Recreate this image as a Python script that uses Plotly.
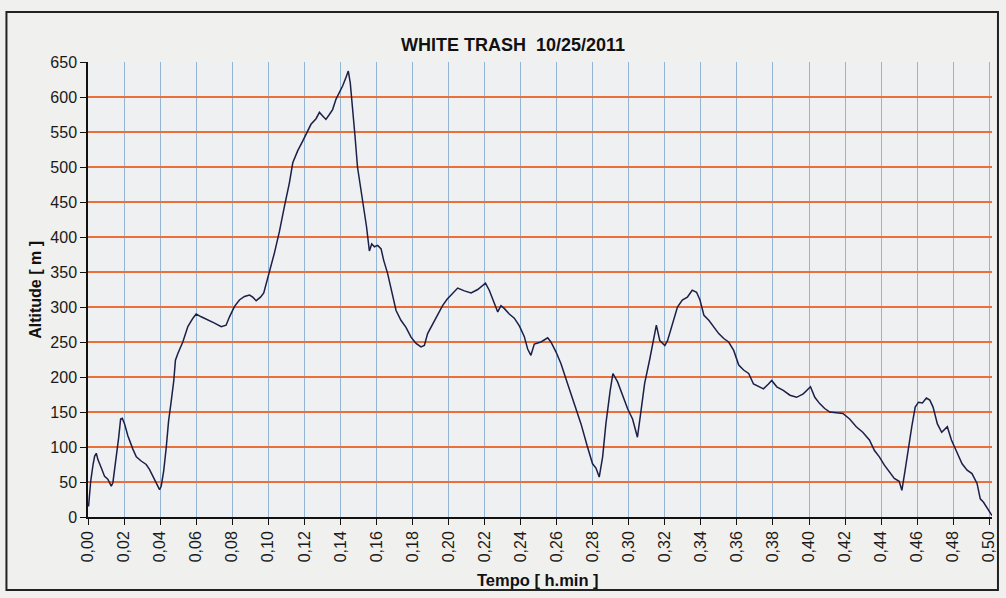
import plotly.graph_objects as go

title_text = "WHITE TRASH  10/25/2011"
x_title = "Tempo [ h.min ]"
y_title = "Altitude [ m ]"

# Time (h.min)
tempo = [
    0.0003, 0.0015, 0.0028, 0.0037, 0.0046, 0.0055, 0.0074, 0.0092, 0.0110, 0.0129,
    0.0138, 0.0157, 0.0170, 0.0181, 0.0190, 0.0203, 0.0221, 0.0249, 0.0268, 0.0295,
    0.0323, 0.0341, 0.0360, 0.0378, 0.0397, 0.0406, 0.0420, 0.0434, 0.0447, 0.0461,
    0.0476, 0.0485, 0.0499, 0.0526, 0.0554, 0.0582, 0.0600, 0.0628, 0.0665, 0.0702,
    0.0739, 0.0766, 0.0785, 0.0813, 0.0840, 0.0868, 0.0896, 0.0914, 0.0933, 0.0957,
    0.0975, 0.0988, 0.1007, 0.1034, 0.1062, 0.1090, 0.1117, 0.1136, 0.1163, 0.1191,
    0.1210, 0.1237, 0.1265, 0.1284, 0.1302, 0.1320, 0.1339, 0.1357, 0.1376, 0.1394,
    0.1413, 0.1431, 0.1444, 0.1455, 0.1468, 0.1481, 0.1495, 0.1512, 0.1528, 0.1545,
    0.1561, 0.1574, 0.1589, 0.1607, 0.1626, 0.1640, 0.1662, 0.1685, 0.1709, 0.1736,
    0.1764, 0.1792, 0.1820, 0.1847, 0.1866, 0.1884, 0.1912, 0.1940, 0.1967, 0.1992,
    0.2023, 0.2051, 0.2088, 0.2125, 0.2162, 0.2189, 0.2205, 0.2226, 0.2254, 0.2273,
    0.2291, 0.2309, 0.2337, 0.2365, 0.2393, 0.2420, 0.2439, 0.2457, 0.2476, 0.2513,
    0.2550, 0.2568, 0.2596, 0.2624, 0.2661, 0.2698, 0.2735, 0.2771, 0.2799, 0.2818,
    0.2836, 0.2855, 0.2873, 0.2897, 0.2912, 0.2938, 0.2966, 0.2993, 0.3021, 0.3048,
    0.3064, 0.3088, 0.3116, 0.3132, 0.3153, 0.3172, 0.3200, 0.3215, 0.3242, 0.3270,
    0.3297, 0.3325, 0.3352, 0.3376, 0.3395, 0.3417, 0.3444, 0.3472, 0.3499, 0.3527,
    0.3554, 0.3582, 0.3610, 0.3637, 0.3665, 0.3692, 0.3720, 0.3747, 0.3775, 0.3793,
    0.3821, 0.3857, 0.3894, 0.3931, 0.3968, 0.3995, 0.4008, 0.4032, 0.4059, 0.4087,
    0.4115, 0.4151, 0.4188, 0.4225, 0.4262, 0.4298, 0.4335, 0.4363, 0.4390, 0.4418,
    0.4445, 0.4473, 0.4500, 0.4515, 0.4533, 0.4552, 0.4570, 0.4589, 0.4607, 0.4629,
    0.4651, 0.4670, 0.4688, 0.4712, 0.4736, 0.4767, 0.4790, 0.4816, 0.4849, 0.4877,
    0.4904, 0.4932, 0.4950, 0.4968, 0.4996, 0.5015,
]

# Altitude (m)
altitude = [
    15, 51, 75, 87, 91, 82, 70, 58, 54, 44,
    49, 85, 113, 140, 141, 133, 116, 97, 86, 80,
    75, 68, 58, 49, 39, 44, 66, 99, 137, 164,
    195, 224, 234, 250, 272, 284, 290, 286, 282, 277,
    272, 274, 286, 301, 310, 315, 317, 314, 309, 314,
    320, 334, 351, 377, 408, 444, 477, 506, 523, 537,
    547, 561, 569, 578, 573, 568, 575, 582, 597, 606,
    616, 628, 637, 620, 585, 545, 500, 470, 448, 415,
    380, 390, 386, 388, 383, 367, 348, 324, 295, 281,
    271, 257, 248, 243, 245, 262, 276, 288, 302, 311,
    320, 327, 323, 320, 325, 331, 334, 324, 305, 293,
    302, 298, 290, 284, 273, 258, 240, 231, 247, 250,
    256, 250, 236, 219, 190, 162, 133, 100, 76, 70,
    57, 86, 133, 181, 205, 193, 173, 155, 140, 114,
    144, 191, 225, 245, 274, 252, 245, 252, 276, 300,
    310, 314, 324, 321, 310, 288, 281, 271, 262, 255,
    250, 238, 217, 210, 205, 190, 186, 183, 190, 195,
    186, 181, 174, 171, 176, 183, 186, 171, 162, 155,
    150, 149, 148, 140, 129, 121, 110, 95, 86, 74,
    64, 55, 51, 38, 67, 100, 129, 157, 164, 163,
    170, 167, 157, 133, 121, 129, 110, 95, 76, 67,
    62, 48, 26, 21, 10, 2,
]

x_ticks = [i * 0.02 for i in range(26)]
y_ticks = list(range(0, 651, 50))

FONT = "Liberation Sans, Arial, sans-serif"

fig = go.Figure()
fig.add_trace(go.Scatter(
    x=tempo, y=altitude, mode="lines",
    line=dict(color="#1c1f48", width=1.5),
    showlegend=False, hoverinfo="x+y",
))

fig.update_layout(
    width=1006, height=598,
    margin=dict(l=88, r=9, t=62, b=81),
    paper_bgcolor="#f0f0ee",
    plot_bgcolor="#eef0f1",
    separators=",.",
    font=dict(family=FONT, color="#111111", size=16),
    title=dict(
        text="<b>" + title_text + "</b>",
        x=513 / 1006, xanchor="center",
        y=1 - 45 / 598, yanchor="middle",
        font=dict(family=FONT, size=18, color="#111111"),
    ),
    xaxis=dict(
        range=[0, 0.5015],
        tickvals=x_ticks,
        tickformat=".2f",
        tickangle=-90,
        ticks="outside", ticklen=6, tickcolor="#111111",
        showline=True, linecolor="#111111", linewidth=1.5,
        showgrid=True, gridcolor="#94b4d4", gridwidth=1,
        zeroline=False,
        tickfont=dict(family=FONT, size=16, color="#1a1a1a"),
    ),
    yaxis=dict(
        range=[0, 650],
        tickvals=y_ticks,
        ticks="outside", ticklen=6, tickcolor="#111111",
        showline=True, linecolor="#111111", linewidth=1.5,
        showgrid=True, gridcolor="#ea6f3a", gridwidth=1.5,
        zeroline=False,
        tickfont=dict(family=FONT, size=16, color="#1a1a1a"),
    ),
    annotations=[
        dict(text="<b>" + x_title + "</b>", xref="paper", yref="paper",
             x=0.498, y=-0.1385, xanchor="center", yanchor="middle",
             showarrow=False, font=dict(family=FONT, size=16.5, color="#111111")),
        dict(text="<b>" + y_title + "</b>", xref="paper", yref="paper",
             x=-0.0583, y=0.50, xanchor="center", yanchor="middle",
             textangle=-90, showarrow=False,
             font=dict(family=FONT, size=16, color="#111111")),
    ],
    shapes=[
        dict(type="rect", xref="paper", yref="paper",
             x0=(6 - 88) / 909, x1=(1003 - 88) / 909,
             y0=(517 - 590) / 455, y1=(517 - 12) / 455,
             line=dict(color="#222222", width=2), fillcolor="rgba(0,0,0,0)",
             layer="below"),
    ],
)

fig.write_html(
    "out.html",
    config={"displayModeBar": False},
    post_script="document.body.style.margin='0px';document.body.style.background='#f0f0ee';",
)
